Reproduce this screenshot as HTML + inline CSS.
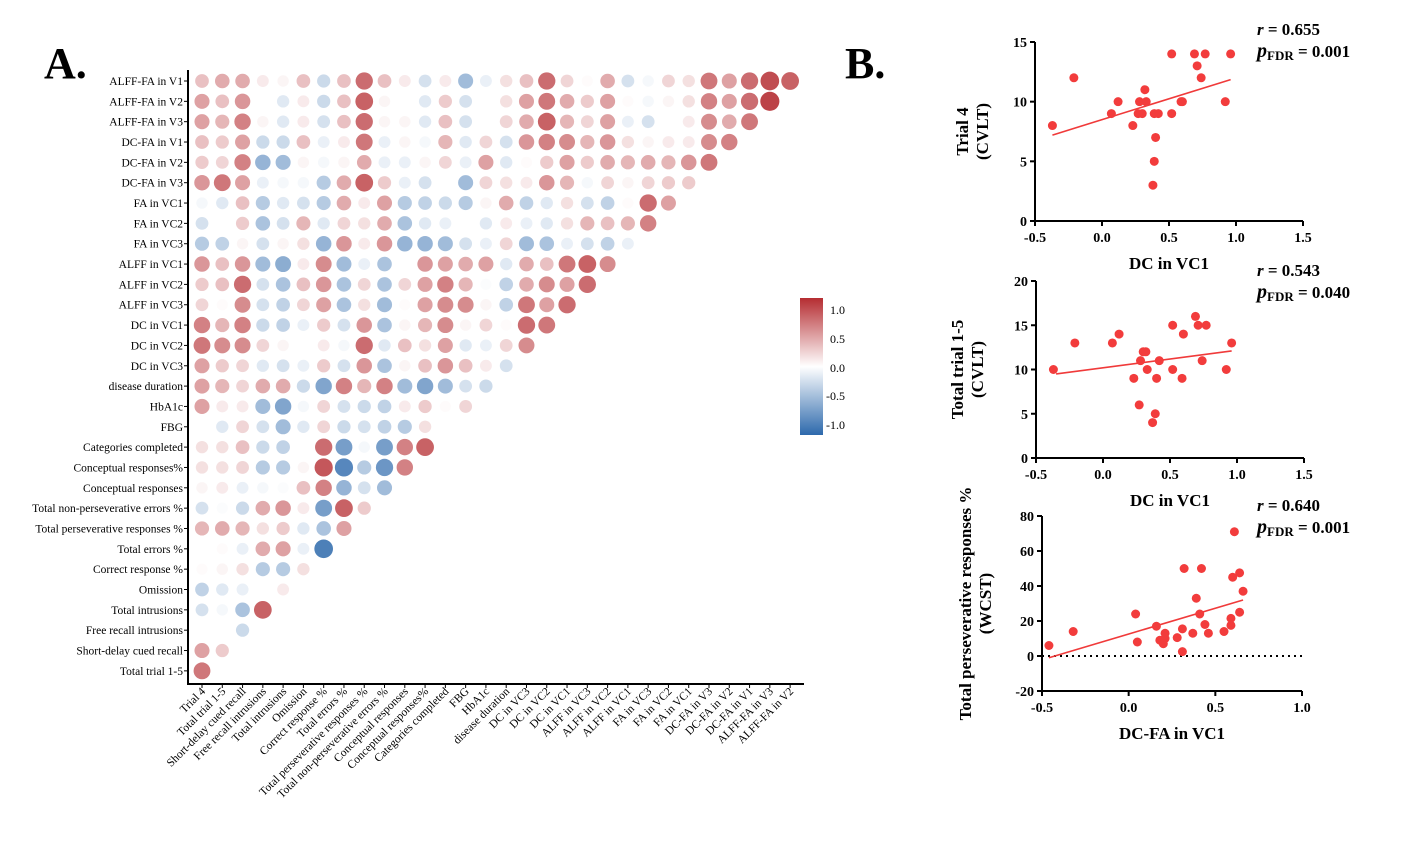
<!DOCTYPE html>
<html><head><meta charset="utf-8">
<style>
html,body{margin:0;padding:0;background:#fff;}
svg{display:block;font-family:"Liberation Serif",serif;}
</style></head>
<body>
<svg id="fig" width="1417" height="860" viewBox="0 0 1417 860" xmlns="http://www.w3.org/2000/svg">
<defs>
<linearGradient id="cbar" x1="0" y1="0" x2="0" y2="1">
<stop offset="0" stop-color="#b52d32"/>
<stop offset="0.5" stop-color="#ffffff"/>
<stop offset="1" stop-color="#2d69ac"/>
</linearGradient>
</defs>
<text x="44" y="78" font-size="44" font-weight="bold">A.</text>
<text x="845" y="78" font-size="44" font-weight="bold">B.</text>
<g id="matrix"></g>
<g id="colorbar">
<rect x="800" y="298" width="23" height="137" fill="url(#cbar)"/>
<text x="830" y="314" font-size="12">1.0</text>
<text x="830" y="343" font-size="12">0.5</text>
<text x="830" y="372" font-size="12">0.0</text>
<text x="826" y="400" font-size="12">-0.5</text>
<text x="826" y="429" font-size="12">-1.0</text>
</g>
<g id="scatters"></g>
</svg>
<script>
const NS="http://www.w3.org/2000/svg";
// ---------- Correlation matrix data ----------
const rowLabels=["ALFF-FA in V1","ALFF-FA in V2","ALFF-FA in V3","DC-FA in V1","DC-FA in V2","DC-FA in V3","FA in VC1","FA in VC2","FA in VC3","ALFF in VC1","ALFF in VC2","ALFF in VC3","DC in VC1","DC in VC2","DC in VC3","disease duration","HbA1c","FBG","Categories completed","Conceptual responses%","Conceptual responses","Total non-perseverative errors %","Total perseverative responses %","Total errors %","Correct response %","Omission","Total intrusions","Free recall intrusions","Short-delay cued recall","Total trial 1-5"];
const colLabels=["Trial 4","Total trial 1-5","Short-delay cued recall","Free recall intrusions","Total intrusions","Omission","Correct response %","Total errors %","Total perseverative responses %","Total non-perseverative errors %","Conceptual responses","Conceptual responses%","Categories completed","FBG","HbA1c","disease duration","DC in VC3","DC in VC2","DC in VC1","ALFF in VC3","ALFF in VC2","ALFF in VC1","FA in VC3","FA in VC2","FA in VC1","DC-FA in V3","DC-FA in V2","DC-FA in V1","ALFF-FA in V3","ALFF-FA in V2"];
const corrValues=[
[0.3,0.4,0.4,0.1,0.05,0.3,-0.25,0.3,0.7,0.3,0.1,-0.2,0.1,-0.45,-0.1,0.15,0.3,0.7,0.2,0.02,0.4,-0.2,-0.05,0.2,0.15,0.65,0.45,0.7,0.85,0.75],
[0.45,0.3,0.5,0.0,-0.15,0.1,-0.25,0.3,0.75,0.05,0.0,-0.15,0.25,-0.2,0,0.15,0.45,0.65,0.4,0.25,0.45,0.02,-0.05,0.05,0.15,0.6,0.45,0.7,0.9],
[0.45,0.35,0.6,0.05,-0.15,0.1,-0.2,0.3,0.7,0.05,0.05,-0.15,0.3,-0.2,0,0.2,0.4,0.75,0.35,0.2,0.45,-0.1,-0.2,0,0.1,0.55,0.4,0.65],
[0.3,0.25,0.45,-0.25,-0.25,0.3,-0.1,0.1,0.65,-0.1,0.05,-0.05,0.35,-0.15,0.2,-0.2,0.5,0.6,0.55,0.35,0.5,0.15,0.05,0.1,0.1,0.55,0.6],
[0.25,0.2,0.6,-0.5,-0.45,0.05,-0.05,0.05,0.4,-0.1,-0.1,0.05,0.2,-0.1,0.45,-0.15,0.02,0.25,0.45,0.25,0.4,0.35,0.4,0.35,0.5,0.65],
[0.5,0.65,0.45,-0.1,-0.05,-0.05,-0.35,0.4,0.75,0.25,-0.1,-0.2,0,-0.45,0.2,0.15,0.1,0.5,0.35,-0.05,0.2,0.05,0.2,0.25,0.25],
[-0.05,-0.15,0.3,-0.35,-0.15,-0.2,-0.35,0.4,0.1,0.45,-0.35,-0.3,-0.25,-0.35,0.05,0.4,-0.3,-0.15,0.15,-0.2,-0.3,0.02,0.7,0.45],
[-0.2,0,0.25,-0.4,-0.2,0.35,-0.15,0.2,0.15,0.4,-0.4,-0.15,-0.1,0,-0.15,0.1,-0.1,-0.15,0.15,0.35,0.3,0.35,0.6],
[-0.35,-0.3,0.05,-0.2,0.05,0.15,-0.5,0.5,0.1,0.5,-0.5,-0.5,-0.45,-0.2,-0.1,0.2,-0.45,-0.4,-0.1,-0.2,-0.3,-0.1],
[0.5,0.3,0.5,-0.45,-0.55,0.1,0.55,-0.45,-0.1,-0.4,0,0.5,0.45,0.4,0.45,-0.15,0.4,0.3,0.65,0.75,0.55],
[0.25,0.3,0.7,-0.2,-0.4,0.3,0.5,-0.4,0.2,-0.4,0.2,0.45,0.6,0.35,-0.02,-0.3,0.4,0.55,0.45,0.7],
[0.2,0.02,0.55,-0.2,-0.3,0.2,0.45,-0.4,0.15,-0.45,0.02,0.45,0.55,0.55,0.05,-0.3,0.65,0.45,0.7],
[0.6,0.35,0.6,-0.25,-0.3,-0.1,0.25,-0.2,0.5,-0.4,0.05,0.35,0.55,0.05,0.2,0.02,0.7,0.65],
[0.65,0.55,0.55,0.2,0.05,0,0.1,-0.05,0.7,-0.15,0.3,0.15,0.45,-0.15,-0.1,0.2,0.55],
[0.45,0.25,0.2,-0.15,-0.2,-0.1,0.25,-0.2,0.5,-0.4,0.05,0.3,0.5,0.3,0.1,-0.2],
[0.45,0.35,0.2,0.4,0.4,-0.25,-0.6,0.6,0.35,0.6,-0.45,-0.6,-0.45,-0.2,-0.25],
[0.45,0.1,0.1,-0.45,-0.6,-0.05,0.2,-0.2,-0.25,-0.3,0.1,0.25,0.02,0.2],
[0,-0.15,0.2,-0.2,-0.45,-0.15,0.2,-0.25,-0.2,-0.3,-0.35,0.15,0],
[0.15,0.15,0.3,-0.25,-0.3,0,0.7,-0.65,-0.05,-0.65,0.6,0.75],
[0.15,0.15,0.2,-0.35,-0.35,0.05,0.8,-0.8,-0.35,-0.7,0.6],
[0.05,0.1,-0.1,-0.05,-0.02,0.3,0.6,-0.5,-0.2,-0.45],
[-0.2,-0.02,-0.25,0.4,0.5,0.1,-0.65,0.75,0.25],
[0.35,0.4,0.35,0.15,0.25,-0.15,-0.4,0.45],
[0,0.02,-0.1,0.4,0.45,-0.1,-0.85],
[0.02,0.05,0.15,-0.35,-0.35,0.15],
[-0.3,-0.15,-0.1,0,0.1],
[-0.2,-0.05,-0.4,0.75],
[0,0,-0.25],
[0.45,0.25],
[0.65]
];
// ---------- Scatter data ----------
const p1X=[-0.37,-0.21,0.07,0.12,0.23,0.27,0.28,0.30,0.32,0.33,0.39,0.42,0.40,0.39,0.38,0.52,0.52,0.59,0.60,0.69,0.71,0.74,0.77,0.92,0.96];
const p1Y=[8,12,9,10,8,9,10,9,11,10,9,9,7,5,3,14,9,10,10,14,13,12,14,10,14];
const p1Fit=[[-0.37,7.2],[0.96,11.85]];
const p2X=[-0.37,-0.21,0.07,0.12,0.23,0.27,0.28,0.30,0.32,0.33,0.37,0.39,0.40,0.42,0.52,0.52,0.59,0.60,0.69,0.71,0.74,0.77,0.92,0.96];
const p2Y=[10,13,13,14,9,6,11,12,12,10,4,5,9,11,15,10,9,14,16,15,11,15,10,13];
const p2Fit=[[-0.35,9.5],[0.96,12.1]];
const p3X=[-0.46,-0.32,0.04,0.05,0.16,0.18,0.20,0.21,0.21,0.28,0.31,0.31,0.32,0.37,0.39,0.41,0.42,0.44,0.46,0.55,0.59,0.59,0.60,0.61,0.64,0.64,0.66];
const p3Y=[6,14,24,8,17,9,7,10,13,10.5,2.5,15.5,50,13,33,24,50,18,13,14,17.5,21.5,45,71,47.5,25,37];
const p3Fit=[[-0.46,-1],[0.66,32]];

function el(tag,attrs,parent){const e=document.createElementNS(NS,tag);for(const k in attrs)e.setAttribute(k,attrs[k]);parent.appendChild(e);return e;}
function corrColor(v){const a=Math.min(1,Math.abs(v));const t=v>=0?[181,45,50]:[45,105,172];
 return `rgb(${Math.round(255+(t[0]-255)*a)},${Math.round(255+(t[1]-255)*a)},${Math.round(255+(t[2]-255)*a)})`;}

// ---------- matrix ----------
const M=document.getElementById('matrix');
const colX=c=>202+c*20.28, rowY=r=>81+r*20.34;
el('line',{x1:188,y1:70,x2:188,y2:684,stroke:'#000','stroke-width':2},M);
el('line',{x1:187,y1:684,x2:804,y2:684,stroke:'#000','stroke-width':2},M);
rowLabels.forEach((lab,r)=>{
 el('line',{x1:184,y1:rowY(r),x2:188,y2:rowY(r),stroke:'#000'},M);
 const t=el('text',{x:183,y:rowY(r)+4,'font-size':11.5,'text-anchor':'end'},M);
 t.textContent=lab;
 
 
});
colLabels.forEach((lab,c)=>{
 el('line',{x1:colX(c),y1:684,x2:colX(c),y2:688,stroke:'#000'},M);
 const t=el('text',{x:colX(c)+4,y:692,'font-size':11.5,'text-anchor':'end',transform:`rotate(-45 ${colX(c)+4} 692)`},M);
 t.textContent=lab;
 
 
});
corrValues.forEach((row,r)=>{row.forEach((v,c)=>{
 const ci=el('circle',{cx:colX(c),cy:rowY(r),r:5.5+4.5*Math.min(1,Math.abs(v)),fill:corrColor(v)},M);
 
 
});});

// ---------- scatter panels ----------
const S=document.getElementById('scatters');
function panel(o){
 const g=el('g',{},S);
 
 
 const sx=v=>o.x0+(v-o.xmin)/(o.xmax-o.xmin)*(o.x1-o.x0);
 const sy=v=>o.y0-(v-o.ymin)/(o.ymax-o.ymin)*(o.y0-o.y1);
 el('line',{x1:o.x0,y1:o.y0+1,x2:o.x0,y2:o.y1,stroke:'#000','stroke-width':2},g);
 el('line',{x1:o.x0-1,y1:o.y0,x2:o.x1,y2:o.y0,stroke:'#000','stroke-width':2},g);
 o.yticks.forEach(v=>{el('line',{x1:o.x0-5,y1:sy(v),x2:o.x0,y2:sy(v),stroke:'#000','stroke-width':2},g);
  const t=el('text',{x:o.x0-8,y:sy(v)+5,'font-size':14,'font-weight':'bold','text-anchor':'end'},g);t.textContent=v;
  });
 o.xticks.forEach(v=>{el('line',{x1:sx(v),y1:o.y0,x2:sx(v),y2:o.y0+5,stroke:'#000','stroke-width':2},g);
  const t=el('text',{x:sx(v),y:o.y0+21,'font-size':14,'font-weight':'bold','text-anchor':'middle'},g);t.textContent=v.toFixed(1);
  });
 if(o.zeroLine){const z=el('line',{x1:o.x0,y1:sy(0),x2:o.x1,y2:sy(0),stroke:'#000','stroke-width':2,'stroke-dasharray':'2,4'},g);
  }
 const fl=el('line',{x1:sx(o.fit[0][0]),y1:sy(o.fit[0][1]),x2:sx(o.fit[1][0]),y2:sy(o.fit[1][1]),stroke:'#f03a3a','stroke-width':1.6},g);
 
 o.xs.forEach((x,i)=>{const c=el('circle',{cx:sx(x),cy:sy(o.ys[i]),r:4.5,fill:'#f23c3c'},g);
  });
 const xt=el('text',{x:(o.x0+o.x1)/2,y:o.y0+48,'font-size':17,'font-weight':'bold','text-anchor':'middle'},g);xt.textContent=o.xtitle;
 
 const yc=(o.y0+o.y1)/2;
 const yt=el('text',{x:o.ytx,y:yc,'font-size':17,'font-weight':'bold','text-anchor':'middle',transform:`rotate(-90 ${o.ytx} ${yc})`},g);
 
 const a=el('tspan',{x:o.ytx,dy:-4},yt);a.textContent=o.ytitle[0];
 const b=el('tspan',{x:o.ytx,dy:20},yt);b.textContent=o.ytitle[1];
 const r=el('text',{x:1257,y:o.ry,'font-size':17,'font-weight':'bold'},g);
 
 const ri=el('tspan',{'font-style':'italic'},r);ri.textContent='r';
 const rr=el('tspan',{},r);rr.textContent=' = '+o.r;
 const p=el('text',{x:1257,y:o.ry+22,'font-size':17,'font-weight':'bold'},g);
 
 const pi=el('tspan',{'font-style':'italic','font-size':20},p);pi.textContent='p';
 const ps=el('tspan',{'font-size':13,dy:3},p);ps.textContent='FDR';
 const pv=el('tspan',{dy:-3},p);pv.textContent=' = '+o.p;
}
panel({name:'scatter-trial4',x0:1035,x1:1303,y0:221,y1:42,xmin:-0.5,xmax:1.5,ymin:0,ymax:15,xticks:[-0.5,0,0.5,1,1.5],yticks:[0,5,10,15],
 xs:p1X,ys:p1Y,fit:p1Fit,xtitle:'DC in VC1',ytitle:['Trial 4','(CVLT)'],ytx:972,r:'0.655',p:'0.001',ry:35});
panel({name:'scatter-total-trial',x0:1036,x1:1304,y0:458,y1:281,xmin:-0.5,xmax:1.5,ymin:0,ymax:20,xticks:[-0.5,0,0.5,1,1.5],yticks:[0,5,10,15,20],
 xs:p2X,ys:p2Y,fit:p2Fit,xtitle:'DC in VC1',ytitle:['Total trial 1-5','(CVLT)'],ytx:967,r:'0.543',p:'0.040',ry:276});
panel({name:'scatter-perseverative',x0:1042,x1:1302,y0:691,y1:516,xmin:-0.5,xmax:1.0,ymin:-20,ymax:80,xticks:[-0.5,0,0.5,1],yticks:[-20,0,20,40,60,80],
 xs:p3X,ys:p3Y,fit:p3Fit,zeroLine:true,xtitle:'DC-FA in VC1',ytitle:['Total perseverative responses %','(WCST)'],ytx:975,r:'0.640',p:'0.001',ry:511});
</script>
</body></html>
